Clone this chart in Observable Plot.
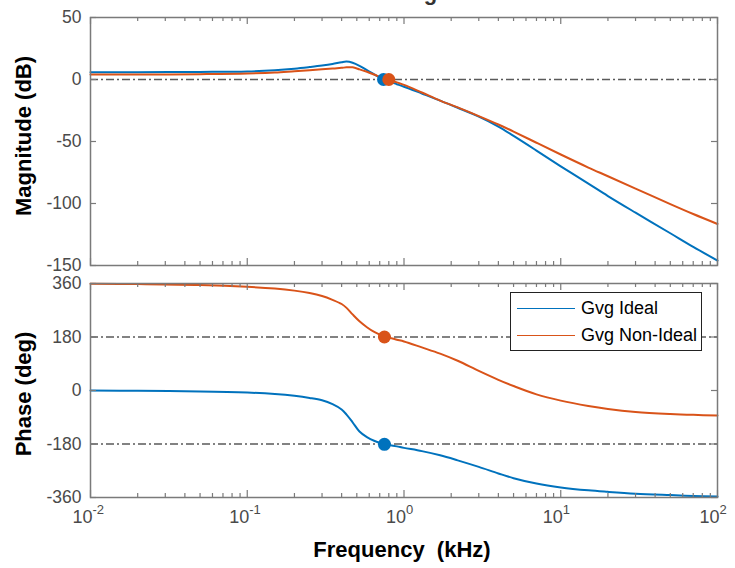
<!DOCTYPE html>
<html><head><meta charset="utf-8">
<script src="https://cdn.jsdelivr.net/npm/d3@7"></script>
<script src="https://cdn.jsdelivr.net/npm/@observablehq/plot@0.6"></script>
<style>
html,body{margin:0;padding:0;background:#fff;}
#chart{position:relative;width:735px;height:568px;overflow:hidden;background:#fff;font-family:"Liberation Sans",Arial,Helvetica,sans-serif;}
#chart svg{position:absolute;left:0;}
.lab{position:absolute;font-weight:bold;font-size:22px;color:#000;white-space:pre;line-height:1;}
.rot{transform:translate(-50%,-50%) rotate(-90deg);}
.ctr{transform:translate(-50%,-50%);}
#legend{position:absolute;left:510px;top:292px;width:192px;height:59px;border:1.3px solid #222;background:#fff;box-sizing:border-box;}
.lrow{position:absolute;left:0;height:20px;display:flex;align-items:center;font-size:18px;color:#000;white-space:nowrap;}
.lline{width:58px;height:0;border-top:1.6px solid;margin-left:6px;margin-right:6px;}
#title{position:absolute;left:403px;top:-18px;transform:translateX(-50%);font-weight:bold;font-size:22px;line-height:22px;color:#333;white-space:nowrap;}
</style></head><body><div id="chart"></div>
<script>
// ---- data ----
const seriesNames = ["Gvg Ideal", "Gvg Non-Ideal"];
const seriesColors = ["#0072BD", "#D95319"];
const freq = [0.01,0.02,0.05,0.1,0.15,0.2,0.25,0.3,0.35,0.4,0.43,0.47,0.52,0.58,0.65,0.74,0.8,0.9,1,1.3,1.7,2.2,3,4,5,7,10,15,20,30,50,70,100];
const magIdeal = [5.9,5.9,6.1,6.5,7.5,8.7,10,11.2,12.5,14,14.5,13.5,11,7.5,4,0,-1.6,-3.8,-5.8,-11.3,-17,-22.8,-30,-38,-45.5,-57.3,-70,-84,-94,-107.4,-124,-135,-146];
const magNonIdeal = [4,4,4.3,4.8,5.6,6.7,7.5,8.2,8.8,9.4,9.8,9.8,8.2,6.2,3.8,1,0,-2.3,-4.3,-10.5,-17,-22.5,-29.5,-36.3,-42,-51,-60.5,-71,-78,-88,-100.5,-108.5,-116.5];
const phaseIdeal = [0,-1,-3,-7,-12,-18,-25,-33,-46,-64,-81,-107,-138,-157,-170,-180,-183,-188,-193,-204,-218,-235,-257,-279,-295,-313,-326,-336,-341,-347,-352,-355,-357];
const phaseNonIdeal = [359,358,355,349,343,336,328,318,305,291,278,256,233,213,196,183,178,171,165,145,124,100,66,36,15,-13,-34,-52,-62,-72,-79,-82,-84];
const magMarkerFreq = [0.74, 0.80];
const magMarkerVal = [0, 0];
const phaseMarkerFreq = [0.75, 0.75];
const phaseMarkerVal = [-181, 180];
const magRef = [0];
const phaseRef = [180, -180];
const magTicks = [50, 0, -50, -100, -150];
const phaseTicks = [360, 180, 0, -180, -360];
const xMajorTicks = [0.01, 0.1, 1, 10, 100];
const xTickExponents = ["-2", "-1", "0", "1", "2"];
const xMinorTicks = [];
for (const d of [0.01, 0.1, 1, 10]) for (let k = 2; k <= 9; k++) xMinorTicks.push(+(d * k).toPrecision(3));

// ---- layout ----
const W = 735, ML = 90, MR = 18, plotW = W - ML - MR;
const magH = 270, magMT = 17, magMB = 5, magPH = magH - magMT - magMB;
const phH = 298, phMT = 13, phMB = 71, phPH = phH - phMT - phMB;
const axisColor = "#7a7a7a", labelColor = "#4a4a4a", refColor = "#5a5a5a";
const font = "Liberation Sans, Arial, Helvetica, sans-serif";

function rows(vals, i) { return freq.map((f, j) => ({f, v: vals[j], s: seriesNames[i]})); }
function markerRows(fs, vs) { return fs.map((f, i) => ({f, v: vs[i], c: seriesColors[i]})); }

function tickMarks(PH, yTicks) {
  return [
    Plot.ruleX(xMajorTicks, {x: d => d, insetBottom: PH - 7, stroke: axisColor, strokeWidth: 1.2}),
    Plot.ruleX(xMajorTicks, {x: d => d, insetTop: PH - 7, stroke: axisColor, strokeWidth: 1.2}),
    Plot.ruleX(xMinorTicks, {x: d => d, insetBottom: PH - 4, stroke: axisColor, strokeWidth: 1.2}),
    Plot.ruleX(xMinorTicks, {x: d => d, insetTop: PH - 4, stroke: axisColor, strokeWidth: 1.2}),
    Plot.ruleY(yTicks, {y: d => d, insetRight: plotW - 6, stroke: axisColor, strokeWidth: 1.2}),
    Plot.ruleY(yTicks, {y: d => d, insetLeft: plotW - 6, stroke: axisColor, strokeWidth: 1.2}),
    Plot.text(yTicks, {y: d => d, text: d => String(d), frameAnchor: "left", textAnchor: "end", dx: -9, fill: labelColor, fontSize: 17.5})
  ];
}

function curves(a, b) {
  return [
    Plot.line(rows(a, 0), {x: "f", y: "v", stroke: seriesColors[0], strokeWidth: 2, curve: "catmull-rom"}),
    Plot.line(rows(b, 1), {x: "f", y: "v", stroke: seriesColors[1], strokeWidth: 2, curve: "catmull-rom"})
  ];
}

const magPlot = Plot.plot({
  width: W, height: magH, marginTop: magMT, marginBottom: magMB, marginLeft: ML, marginRight: MR,
  x: {type: "log", domain: [0.01, 100], axis: null},
  y: {domain: [-150, 50], axis: null},
  style: {fontFamily: font, fontSize: "18px", background: "transparent", overflow: "visible"},
  marks: [
    Plot.ruleY(magRef, {y: d => d, stroke: refColor, strokeWidth: 1.5, strokeDasharray: "8,3,2,3"}),
    ...curves(magIdeal, magNonIdeal),
    Plot.dot(markerRows(magMarkerFreq, magMarkerVal), {x: "f", y: "v", r: 6.5, fill: "c", stroke: "none"}),
    ...tickMarks(magPH, magTicks),
    Plot.frame({stroke: axisColor, strokeWidth: 1.5})
  ]
});
magPlot.style.top = "0px";

const phPlot = Plot.plot({
  width: W, height: phH, marginTop: phMT, marginBottom: phMB, marginLeft: ML, marginRight: MR,
  x: {type: "log", domain: [0.01, 100], axis: null},
  y: {domain: [-360, 360], axis: null},
  style: {fontFamily: font, fontSize: "18px", background: "transparent", overflow: "visible"},
  marks: [
    Plot.ruleY(phaseRef, {y: d => d, stroke: refColor, strokeWidth: 1.5, strokeDasharray: "8,3,2,3"}),
    ...curves(phaseIdeal, phaseNonIdeal),
    Plot.dot(markerRows(phaseMarkerFreq, phaseMarkerVal), {x: "f", y: "v", r: 6.5, fill: "c", stroke: "none"}),
    ...tickMarks(phPH, phaseTicks),
    Plot.text(xMajorTicks, {x: d => d, text: () => "10", frameAnchor: "bottom", dy: 25, dx: 2, textAnchor: "end", fill: labelColor, fontSize: 18}),
    Plot.text(xMajorTicks, {x: d => d, text: (d, i) => xTickExponents[i], frameAnchor: "bottom", dy: 16, dx: 2, textAnchor: "start", fill: labelColor, fontSize: 13}),
    Plot.frame({stroke: axisColor, strokeWidth: 1.5})
  ]
});
phPlot.style.top = magH + "px";

const chart = document.getElementById("chart");
chart.appendChild(magPlot);
chart.appendChild(phPlot);

function addDiv(cls, text, css) {
  const d = document.createElement("div");
  d.className = cls; d.textContent = text;
  Object.assign(d.style, css);
  chart.appendChild(d);
  return d;
}
const title = document.createElement("div");
title.id = "title"; title.textContent = "Bode Diagram";
chart.appendChild(title);
addDiv("lab rot", "Magnitude (dB)", {left: "24px", top: "136px"});
addDiv("lab rot", "Phase (deg)", {left: "24px", top: "394px"});
addDiv("lab ctr", "Frequency  (kHz)", {left: "402px", top: "550px"});

const legend = document.createElement("div");
legend.id = "legend";
seriesNames.forEach((name, i) => {
  const r = document.createElement("div");
  r.className = "lrow";
  r.style.top = (i === 0 ? 5 : 32) + "px";
  const ln = document.createElement("div");
  ln.className = "lline"; ln.style.borderTopColor = seriesColors[i];
  const t = document.createElement("span"); t.textContent = name;
  r.appendChild(ln); r.appendChild(t);
  legend.appendChild(r);
});
chart.appendChild(legend);
</script></body></html>
